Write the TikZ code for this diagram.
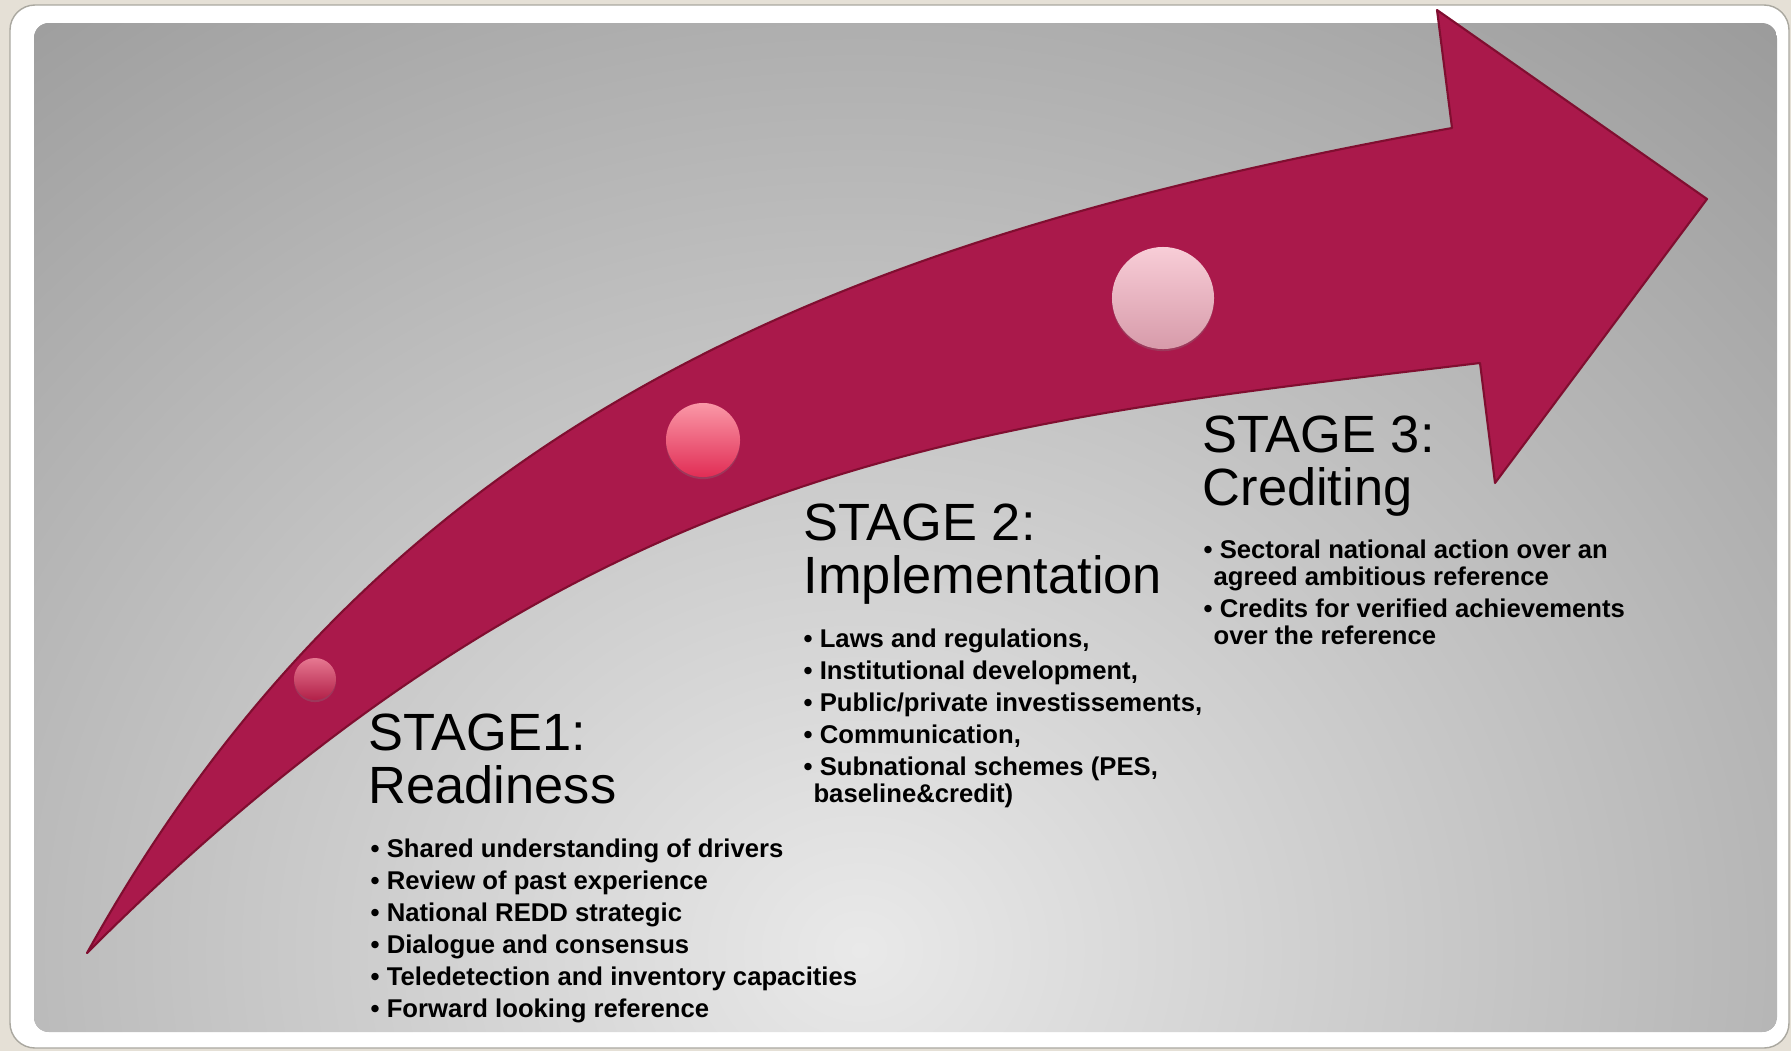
\documentclass[tikz,border=0pt]{standalone}
\usepackage{fontspec}
\setmainfont{Liberation Sans}
\usetikzlibrary{shadows}
\definecolor{pageback}{RGB}{229,224,214}
\definecolor{framegray}{RGB}{170,168,160}
\definecolor{paneldark}{RGB}{156,156,156}
\definecolor{panellight}{RGB}{233,233,233}
\definecolor{arrowred}{RGB}{170,25,75}
\definecolor{arrowedge}{RGB}{128,14,48}
\begin{document}
\begin{tikzpicture}[x=0.01cm, y=-0.01cm,
    stagetitle/.style={anchor=north west, inner sep=0pt, align=left, font=\fontsize{14.9pt}{15pt}\selectfont},
    stagelist/.style={anchor=north west, inner sep=0pt, align=left, font=\fontsize{7.3pt}{7.7pt}\selectfont\bfseries},
    stagedot/.style={circle, inner sep=0pt, drop shadow={shadow xshift=0pt, shadow yshift=-0.6pt, opacity=0.3}}]
        \useasboundingbox (0,0) rectangle (1791,1051);
        \fill[pageback] (0,0) rectangle (1791,1051);
        \draw[framegray, fill=white, rounded corners=2.5mm] (10,5) rectangle (1789,1048);

        % grey panel
        \begin{scope}
          \clip[rounded corners=1.5mm] (34,23) rectangle (1777,1032);
          \fill[paneldark] (34,23) rectangle (1777,1032);
          \shade[inner color=panellight, outer color=paneldark] (860,950) ellipse[x radius=1380, y radius=1220];
        \end{scope}

        % curved arrow
        \filldraw[fill=arrowred, draw=arrowedge, line width=0.6pt, line join=round]
          (87,953) .. controls (387,413) and (852,236) .. (1452,128) -- (1437,10) -- (1707,199)
          -- (1495,483) -- (1480,363) .. controls (980,423) and (587,453) .. (87,953) -- cycle;

        \node[stagedot, minimum size=4.2mm, top color={rgb,255:red,230;green,120;blue,145}, bottom color={rgb,255:red,178;green,32;blue,72}] (dotone) at (315,679) {};
        \node[stagedot, minimum size=7.4mm, top color={rgb,255:red,250;green,152;blue,167}, bottom color={rgb,255:red,225;green,45;blue,85}] (dottwo) at (703,440) {};
        \node[stagedot, minimum size=10.2mm, top color={rgb,255:red,248;green,205;blue,215}, bottom color={rgb,255:red,215;green,155;blue,170}] (dotthree) at (1163,298) {};

        % stage texts
        \node[stagetitle] (readiness) at (368,713) {STAGE1:\\Readiness};
        \node[stagelist] (readinesslist) at (370,838) {\textbullet\ Shared understanding of drivers\\[1.4pt]
          \textbullet\ Review of past experience\\[1.4pt]
          \textbullet\ National REDD strategic\\[1.4pt]
          \textbullet\ Dialogue and consensus\\[1.4pt]
          \textbullet\ Teledetection and inventory capacities\\[1.4pt]
          \textbullet\ Forward looking reference};

        \node[stagetitle] (implementation) at (803,503) {STAGE 2:\\Implementation};
        \node[stagelist] (implementationlist) at (803,628) {\textbullet\ Laws and regulations,\\[1.4pt]
          \textbullet\ Institutional development,\\[1.4pt]
          \textbullet\ Public/private investissements,\\[1.4pt]
          \textbullet\ Communication,\\[1.4pt]
          \textbullet\ Subnational schemes (PES,\\
          \hspace*{2.8pt}baseline\&credit)};

        \node[stagetitle] (crediting) at (1202,415) {STAGE 3:\\Crediting};
        \node[stagelist] (creditinglist) at (1203,539) {\textbullet\ Sectoral national action over an\\
          \hspace*{2.8pt}agreed ambitious reference\\[1.4pt]
          \textbullet\ Credits for verified achievements\\
          \hspace*{2.8pt}over the reference};
\end{tikzpicture}
\end{document}
